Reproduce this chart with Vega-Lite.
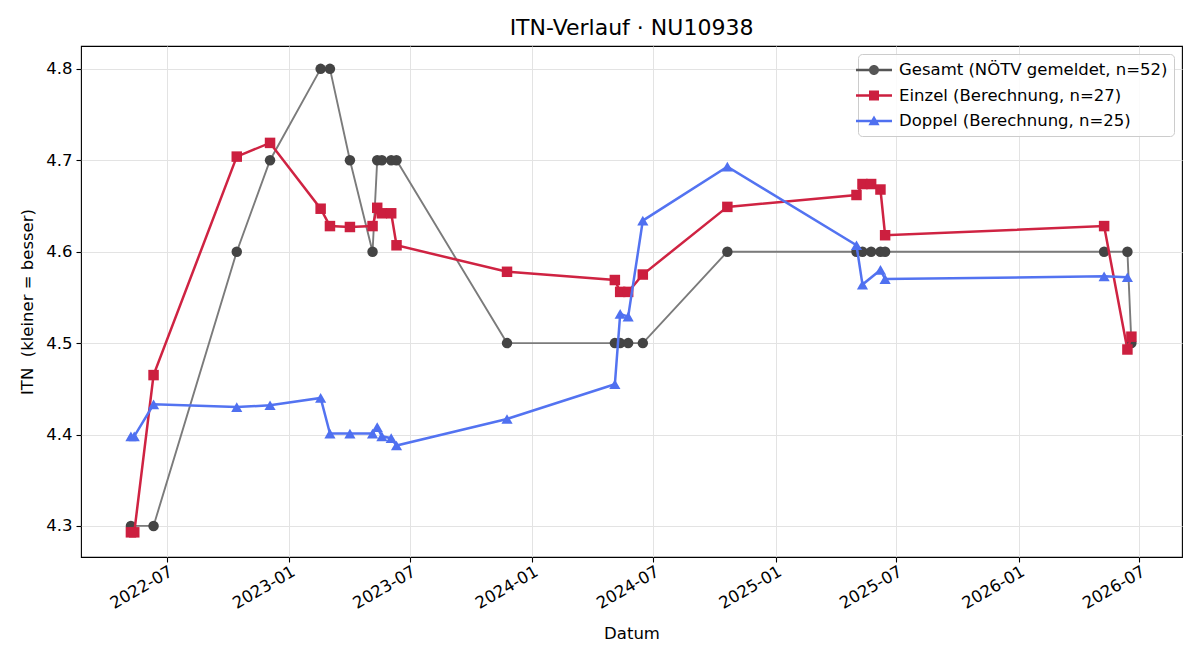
{
  "$schema": "https://vega.github.io/schema/vega-lite/v6.json",
  "width": 1101,
  "height": 511,
  "autosize": {"type": "none"},
  "padding": {"left": 81, "top": 46, "right": 18, "bottom": 103},
  "background": "white",
  "title": {
    "text": "ITN-Verlauf · NU10938",
    "font": "DejaVu Sans",
    "fontSize": 22,
    "fontWeight": "normal",
    "color": "black",
    "anchor": "middle",
    "offset": 6
  },
  "config": {
    "font": "DejaVu Sans",
    "view": {"stroke": "black", "strokeWidth": 1.1},
    "axis": {
      "labelFont": "DejaVu Sans",
      "labelFontSize": 16.5,
      "labelColor": "black",
      "titleFont": "DejaVu Sans",
      "titleFontSize": 16.5,
      "titleFontWeight": "normal",
      "titleColor": "black",
      "tickColor": "black",
      "tickSize": 5,
      "tickWidth": 1.1,
      "domain": false,
      "grid": true,
      "gridColor": "#e3e3e3",
      "gridWidth": 1,
      "labelPadding": 4
    }
  },
  "data": {
    "values": [
      {"d": "2022-05-08", "s": "G", "v": 4.3},
      {"d": "2022-06-11", "s": "G", "v": 4.3},
      {"d": "2022-10-14", "s": "G", "v": 4.6},
      {"d": "2022-12-03", "s": "G", "v": 4.7},
      {"d": "2023-02-17", "s": "G", "v": 4.8},
      {"d": "2023-03-03", "s": "G", "v": 4.8},
      {"d": "2023-04-02", "s": "G", "v": 4.7},
      {"d": "2023-05-06", "s": "G", "v": 4.6},
      {"d": "2023-05-13", "s": "G", "v": 4.7},
      {"d": "2023-05-20", "s": "G", "v": 4.7},
      {"d": "2023-06-03", "s": "G", "v": 4.7},
      {"d": "2023-06-11", "s": "G", "v": 4.7},
      {"d": "2023-11-24", "s": "G", "v": 4.5},
      {"d": "2024-05-04", "s": "G", "v": 4.5},
      {"d": "2024-05-12", "s": "G", "v": 4.5},
      {"d": "2024-05-24", "s": "G", "v": 4.5},
      {"d": "2024-06-15", "s": "G", "v": 4.5},
      {"d": "2024-10-20", "s": "G", "v": 4.6},
      {"d": "2025-05-02", "s": "G", "v": 4.6},
      {"d": "2025-05-11", "s": "G", "v": 4.6},
      {"d": "2025-05-24", "s": "G", "v": 4.6},
      {"d": "2025-06-07", "s": "G", "v": 4.6},
      {"d": "2025-06-14", "s": "G", "v": 4.6},
      {"d": "2026-05-09", "s": "G", "v": 4.6},
      {"d": "2026-06-13", "s": "G", "v": 4.6},
      {"d": "2026-06-19", "s": "G", "v": 4.5},

      {"d": "2022-05-08", "s": "E", "v": 4.293},
      {"d": "2022-05-13", "s": "E", "v": 4.293},
      {"d": "2022-06-11", "s": "E", "v": 4.465},
      {"d": "2022-10-14", "s": "E", "v": 4.704},
      {"d": "2022-12-03", "s": "E", "v": 4.719},
      {"d": "2023-02-17", "s": "E", "v": 4.647},
      {"d": "2023-03-03", "s": "E", "v": 4.628},
      {"d": "2023-04-02", "s": "E", "v": 4.627},
      {"d": "2023-05-06", "s": "E", "v": 4.628},
      {"d": "2023-05-13", "s": "E", "v": 4.648},
      {"d": "2023-05-20", "s": "E", "v": 4.642},
      {"d": "2023-06-03", "s": "E", "v": 4.642},
      {"d": "2023-06-11", "s": "E", "v": 4.607},
      {"d": "2023-11-24", "s": "E", "v": 4.578},
      {"d": "2024-05-04", "s": "E", "v": 4.569},
      {"d": "2024-05-12", "s": "E", "v": 4.556},
      {"d": "2024-05-24", "s": "E", "v": 4.556},
      {"d": "2024-06-15", "s": "E", "v": 4.575},
      {"d": "2024-10-20", "s": "E", "v": 4.649},
      {"d": "2025-05-02", "s": "E", "v": 4.662},
      {"d": "2025-05-11", "s": "E", "v": 4.674},
      {"d": "2025-05-24", "s": "E", "v": 4.674},
      {"d": "2025-06-07", "s": "E", "v": 4.668},
      {"d": "2025-06-14", "s": "E", "v": 4.618},
      {"d": "2026-05-09", "s": "E", "v": 4.628},
      {"d": "2026-06-13", "s": "E", "v": 4.493},
      {"d": "2026-06-19", "s": "E", "v": 4.507},

      {"d": "2022-05-08", "s": "D", "v": 4.398},
      {"d": "2022-05-13", "s": "D", "v": 4.398},
      {"d": "2022-06-11", "s": "D", "v": 4.433},
      {"d": "2022-10-14", "s": "D", "v": 4.43},
      {"d": "2022-12-03", "s": "D", "v": 4.432},
      {"d": "2023-02-17", "s": "D", "v": 4.44},
      {"d": "2023-03-03", "s": "D", "v": 4.401},
      {"d": "2023-04-02", "s": "D", "v": 4.401},
      {"d": "2023-05-06", "s": "D", "v": 4.401},
      {"d": "2023-05-13", "s": "D", "v": 4.408},
      {"d": "2023-05-20", "s": "D", "v": 4.398},
      {"d": "2023-06-03", "s": "D", "v": 4.396},
      {"d": "2023-06-11", "s": "D", "v": 4.388},
      {"d": "2023-11-24", "s": "D", "v": 4.417},
      {"d": "2024-05-04", "s": "D", "v": 4.455},
      {"d": "2024-05-12", "s": "D", "v": 4.532},
      {"d": "2024-05-24", "s": "D", "v": 4.529},
      {"d": "2024-06-15", "s": "D", "v": 4.634},
      {"d": "2024-10-20", "s": "D", "v": 4.693},
      {"d": "2025-05-02", "s": "D", "v": 4.607},
      {"d": "2025-05-11", "s": "D", "v": 4.564},
      {"d": "2025-06-07", "s": "D", "v": 4.58},
      {"d": "2025-06-14", "s": "D", "v": 4.57},
      {"d": "2026-05-09", "s": "D", "v": 4.573},
      {"d": "2026-06-13", "s": "D", "v": 4.572}
    ]
  },
  "encoding": {
    "x": {
      "field": "d",
      "type": "temporal",
      "title": "Datum",
      "scale": {
        "type": "utc",
        "domain": [
          {"year": 2022, "month": 2, "date": 22, "utc": true},
          {"year": 2026, "month": 9, "date": 3, "utc": true}
        ]
      },
      "axis": {
        "values": [
          {"year": 2022, "month": 7, "date": 1, "utc": true},
          {"year": 2023, "month": 1, "date": 1, "utc": true},
          {"year": 2023, "month": 7, "date": 1, "utc": true},
          {"year": 2024, "month": 1, "date": 1, "utc": true},
          {"year": 2024, "month": 7, "date": 1, "utc": true},
          {"year": 2025, "month": 1, "date": 1, "utc": true},
          {"year": 2025, "month": 7, "date": 1, "utc": true},
          {"year": 2026, "month": 1, "date": 1, "utc": true},
          {"year": 2026, "month": 7, "date": 1, "utc": true}
        ],
        "format": "%Y-%m",
        "labelAngle": -30,
        "labelAlign": "right",
        "labelBaseline": "top",
        "labelDx": -6,
        "labelPadding": 1,
        "labelFlush": false,
        "labelOverlap": false,
        "titlePadding": 14
      }
    },
    "y": {
      "field": "v",
      "type": "quantitative",
      "title": "ITN\u00a0 (kleiner = besser)",
      "scale": {"domain": [4.266, 4.825], "zero": false, "nice": false},
      "axis": {
        "values": [4.3, 4.4, 4.5, 4.6, 4.7, 4.8],
        "format": ".1f",
        "titlePadding": 10
      }
    }
  },
  "layer": [
    {
      "transform": [{"filter": "datum.s == 'G'"}],
      "mark": {"type": "line", "stroke": "#7b7b7b", "strokeWidth": 1.9}
    },
    {
      "transform": [{"filter": "datum.s == 'G'"}],
      "mark": {"type": "point", "shape": "circle", "filled": true, "opacity": 1, "size": 110, "color": "#444444"}
    },
    {
      "transform": [{"filter": "datum.s == 'E'"}],
      "mark": {"type": "line", "stroke": "#cf2342", "strokeWidth": 2.5}
    },
    {
      "transform": [{"filter": "datum.s == 'E'"}],
      "mark": {"type": "point", "shape": "square", "filled": true, "opacity": 1, "size": 110, "color": "#cc1f3f"}
    },
    {
      "transform": [{"filter": "datum.s == 'D'"}],
      "mark": {"type": "line", "stroke": "#5373f1", "strokeWidth": 2.5}
    },
    {
      "transform": [{"filter": "datum.s == 'D'"}],
      "mark": {"type": "point", "shape": "triangle-up", "filled": true, "opacity": 1, "size": 125, "color": "#4f70f0"}
    },
    {
      "description": "Legend carrier: draws no points, only supplies the series key with line-and-marker symbols",
      "transform": [{"filter": "false"}],
      "mark": {"type": "point", "filled": true, "opacity": 1},
      "encoding": {
        "color": {
          "field": "s",
          "type": "nominal",
          "scale": {"domain": ["G", "E", "D"], "range": ["#555555", "#cc1f3f", "#4f70f0"]},
          "legend": {
            "title": null,
            "orient": "top-right",
            "offset": 8,
            "padding": 6,
            "strokeColor": "#cccccc",
            "fillColor": "rgba(255,255,255,0.85)",
            "cornerRadius": 4,
            "labelFont": "DejaVu Sans",
            "labelFontSize": 16.5,
            "labelColor": "black",
            "labelLimit": 600,
            "labelOffset": 15,
            "rowPadding": 6.5,
            "symbolSize": 400,
            "symbolStrokeWidth": 0,
            "symbolOpacity": 1,
            "labelExpr": "datum.value == 'G' ? 'Gesamt (NÖTV gemeldet, n=52)' : datum.value == 'E' ? 'Einzel (Berechnung, n=27)' : 'Doppel (Berechnung, n=25)'"
          }
        },
        "shape": {
          "field": "s",
          "type": "nominal",
          "scale": {
            "domain": ["G", "E", "D"],
            "range": [
              "M-1.8,-0.12L1.8,-0.12L1.8,0.12L-1.8,0.12Z M0.5,0A0.5,0.5 0 1,1 -0.5,0A0.5,0.5 0 1,1 0.5,0Z",
              "M-1.8,-0.12L1.8,-0.12L1.8,0.12L-1.8,0.12Z M-0.5,-0.5L0.5,-0.5L0.5,0.5L-0.5,0.5Z",
              "M-1.8,-0.12L1.8,-0.12L1.8,0.12L-1.8,0.12Z M0,-0.56L0.56,0.42L-0.56,0.42Z"
            ]
          }
        }
      }
    }
  ]
}
